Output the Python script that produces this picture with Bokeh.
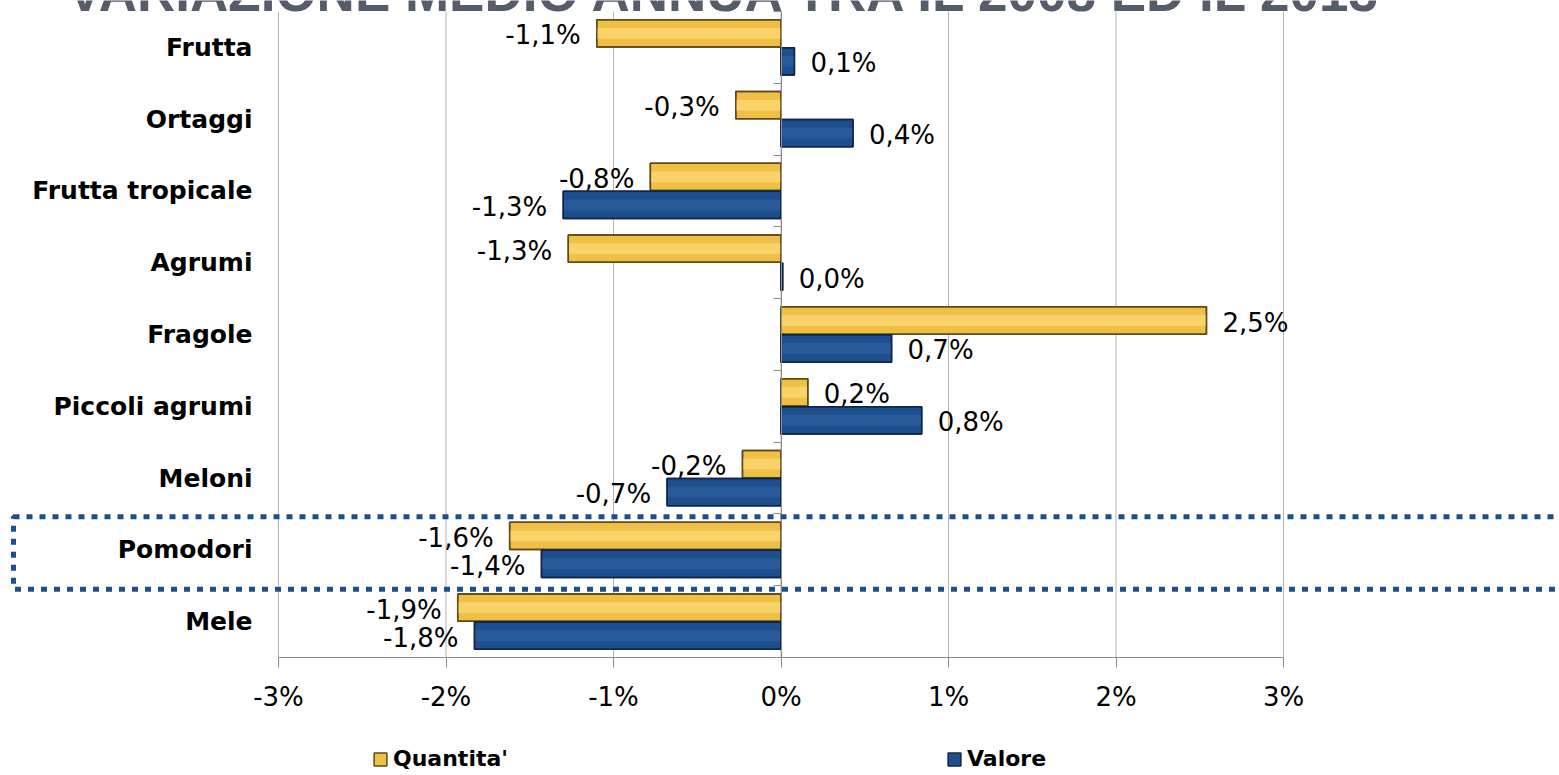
from bokeh.plotting import figure
from bokeh.models import (ColumnDataSource, Range1d, FixedTicker, LinearAxis,
                          Label, BoxAnnotation, Legend, LegendItem)
from bokeh.core.properties import value
from bokeh.embed import file_html
from bokeh.resources import INLINE

# ---------------- data ----------------
categories = ["Frutta", "Ortaggi", "Frutta tropicale", "Agrumi", "Fragole",
              "Piccoli agrumi", "Meloni", "Pomodori", "Mele"]
quantita = [-1.10, -0.27, -0.78, -1.27, 2.54, 0.16, -0.23, -1.62, -1.93]
valore = [0.08, 0.43, -1.30, 0.01, 0.66, 0.84, -0.68, -1.43, -1.83]
x_ticks = [-3, -2, -1, 0, 1, 2, 3]
x_tick_labels = ["-3%", "-2%", "-1%", "0%", "1%", "2%", "3%"]
series_names = ["Quantita'", "Valore"]
title_text = "VARIAZIONE MEDIO ANNUA TRA IL 2008 ED IL 2013"
highlight = "Pomodori"

# ---------------- layout / styling ----------------
W, H = 1559, 775
PLOT_L, PLOT_R, PLOT_T, PLOT_B = 278, 1283, 11, 657
FONT = "DejaVu Sans"
Q_FILL, Q_STRIPE, Q_LINE = "#f0bf45", "#fad26a", "#5e4a17"
V_FILL, V_STRIPE, V_LINE = "#1f4e8d", "#285a9b", "#0e2748"
GRID = "#b5b5b5"
AXIS = "#8c8c8c"
BAR_H = 0.38
SHIFT = 0.195

n = len(categories)
centers = [n - 1 - i + 0.5 for i in range(n)]          # first category at the top
kx = (PLOT_R - PLOT_L) / (x_ticks[-1] - x_ticks[0])      # px per unit (x)
ky = (PLOT_B - PLOT_T) / n                               # px per band (y)
x_range = Range1d(x_ticks[0] - PLOT_L / kx, x_ticks[-1] + (W - PLOT_R) / kx)
y_range = Range1d(-(H - PLOT_B) / ky, n + PLOT_T / ky)


def fmt(v):
    return ("%.1f" % v).replace(".", ",") + "%"


def make_source(vals, shift):
    return ColumnDataSource(dict(
        y=[c + shift for c in centers],
        val=vals,
        text=[fmt(v) for v in vals],
        align=["left" if v >= 0 else "right" for v in vals],
        xoff=[16 if v >= 0 else -16 for v in vals],
    ))


src_q = make_source(quantita, SHIFT)
src_v = make_source(valore, -SHIFT)

p = figure(x_range=x_range, y_range=y_range, width=W, height=H,
           output_backend="svg", toolbar_location=None,
           min_border=0, min_border_left=0, min_border_right=0,
           min_border_top=0, min_border_bottom=0)
p.outline_line_color = None
p.background_fill_color = "white"
p.border_fill_color = "white"
p.xgrid.visible = False
p.ygrid.visible = False

# vertical grid lines (one per x tick) over the category area
p.segment(x0=x_ticks, x1=x_ticks, y0=[0] * len(x_ticks), y1=[n] * len(x_ticks),
          line_color=GRID, line_width=1)

# bottom value axis, drawn at the bottom of the category area
xa = p.xaxis[0]
xa.fixed_location = 0
xa.bounds = (x_ticks[0], x_ticks[-1])
xa.ticker = FixedTicker(ticks=x_ticks)
xa.major_label_overrides = {t: l for t, l in zip(x_ticks, x_tick_labels)}
xa.major_tick_out = 10
xa.major_tick_in = 0
xa.minor_tick_line_color = None
xa.axis_line_color = AXIS
xa.major_tick_line_color = AXIS
xa.major_label_text_font = FONT
xa.major_label_text_font_size = "26px"
xa.major_label_text_color = "black"
xa.major_label_standoff = 14

# category labels at the left edge of the plot area
ya = p.yaxis[0]
ya.fixed_location = x_ticks[0]
ya.bounds = (0, n)
ya.ticker = FixedTicker(ticks=centers)
ya.major_label_overrides = {c: name for c, name in zip(centers, categories)}
ya.axis_line_color = None
ya.major_tick_line_color = None
ya.minor_tick_line_color = None
ya.major_tick_out = 0
ya.major_tick_in = 0
ya.major_label_standoff = 26
ya.major_label_text_font = FONT
ya.major_label_text_font_style = "bold"
ya.major_label_text_font_size = "25px"
ya.major_label_text_color = "black"

# category axis line with band ticks at 0 %
zero_axis = LinearAxis(fixed_location=0, bounds=(0, n),
                       ticker=FixedTicker(ticks=list(range(n + 1))),
                       major_label_overrides={i: "" for i in range(n + 1)},
                       major_tick_out=8, major_tick_in=0,
                       minor_tick_line_color=None,
                       axis_line_color=AXIS, major_tick_line_color=AXIS,
                       major_label_standoff=0)
p.add_layout(zero_axis, "left")

# dotted highlight box around one category
hi_c = centers[categories.index(highlight)]
p.add_layout(BoxAnnotation(left=x_ticks[0] - 265 / kx, right=x_ticks[-1] + 290 / kx,
                           bottom=hi_c - 0.55, top=hi_c + 0.46,
                           fill_alpha=0, line_color="#1f4e8d", line_alpha=1,
                           line_width=5, line_dash="6 7"))


# bars + value labels
def draw_series(src, fill, stripe, line):
    r = p.hbar(y="y", left=0, right="val", height=BAR_H, source=src,
               fill_color=fill, line_color=line, line_width=1.5)
    p.hbar(y="y", left=0, right="val", height=BAR_H * 0.4, source=src,
           fill_color=stripe, line_color=None)
    p.hbar(y="y", left=0, right="val", height=BAR_H, source=src,
           fill_color=None, line_color=line, line_width=1.5)
    p.text(x="val", y="y", text="text", source=src, x_offset="xoff", y_offset=2,
           text_align="align", text_baseline="middle",
           text_font=value(FONT), text_font_size="26px", text_color="black")
    return r


rq = draw_series(src_q, Q_FILL, Q_STRIPE, Q_LINE)
rv = draw_series(src_v, V_FILL, V_STRIPE, V_LINE)

# legend (two separate entries as in the original)
for name, rend, xloc in [(series_names[0], rq, 372), (series_names[1], rv, 946)]:
    leg = Legend(items=[LegendItem(label=name, renderers=[rend])], location=(xloc, 4),
                 orientation="horizontal", border_line_color=None, background_fill_alpha=0,
                 padding=0, margin=0, glyph_width=16, glyph_height=16, label_height=20,
                 label_standoff=5, label_text_font=FONT, label_text_font_style="bold",
                 label_text_font_size="22px", label_text_color="black")
    p.add_layout(leg)

# title (partially cut at the top, as in the original)
p.add_layout(Label(x=726, y=H + 8, x_units="screen", y_units="screen", text=title_text,
                   text_align="center", text_baseline="alphabetic",
                   text_font="Liberation Sans", text_font_style="bold",
                   text_font_size="53px", text_color="#565c69"))

open("out.html", "w").write(file_html(p, INLINE))
